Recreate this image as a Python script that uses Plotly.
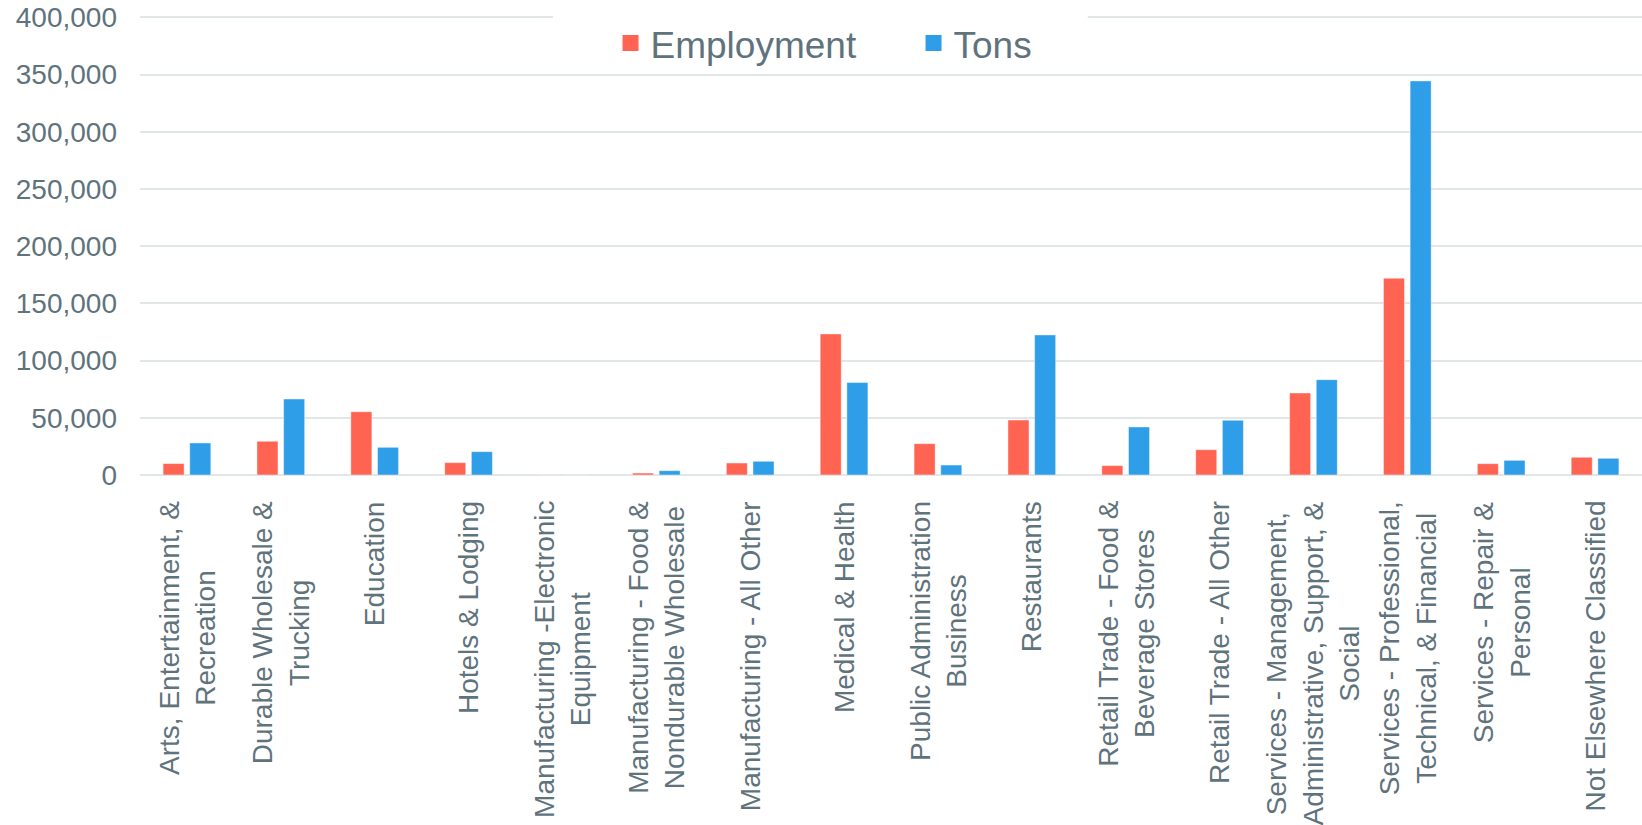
import plotly.graph_objects as go

# Industry categories (line breaks used for the wrapped axis labels)
categories = [
    "Arts, Entertainment, &<br>Recreation",
    "Durable Wholesale &<br>Trucking",
    "Education",
    "Hotels & Lodging",
    "Manufacturing -Electronic<br>Equipment",
    "Manufacturing - Food &<br>Nondurable Wholesale",
    "Manufacturing - All Other",
    "Medical & Health",
    "Public Administration<br>Business",
    "Restaurants",
    "Retail Trade - Food &<br>Beverage Stores",
    "Retail Trade - All Other",
    "Services - Management,<br>Administrative, Support, &<br>Social",
    "Services - Professional,<br>Technical, & Financial",
    "Services - Repair &<br>Personal",
    "Not Elsewhere Classified",
]

employment = [10000, 29500, 55300, 10800, 120, 1700, 10500, 123300, 27400, 48000,
              8200, 22100, 71700, 172000, 9900, 15500]
tons = [28000, 66400, 24200, 20400, 90, 3800, 12000, 80800, 8700, 122400,
        42000, 47800, 83300, 344400, 12800, 14600]

y_ticks = [0, 50000, 100000, 150000, 200000, 250000, 300000, 350000, 400000]

RED = "#FF6452"
BLUE = "#2F9EE8"
TEXT = "#5f737d"
GRID = "#e1e6e9"
FONT = "Liberation Sans, Arial, sans-serif"

fig = go.Figure()
fig.add_trace(go.Bar(name="Employment", x=categories, y=employment,
                     marker=dict(color=RED, line=dict(color="rgba(255,255,255,0.45)", width=1)),
                     showlegend=False))
fig.add_trace(go.Bar(name="Tons", x=categories, y=tons,
                     marker=dict(color=BLUE, line=dict(color="rgba(255,255,255,0.45)", width=1)),
                     showlegend=False))

# Legend entries with larger square swatches
for name, col in (("Employment", RED), ("Tons", BLUE)):
    fig.add_trace(go.Scatter(name=name, x=[None], y=[None], mode="markers",
                             marker=dict(symbol="square", size=16, color=col),
                             showlegend=True, hoverinfo="skip"))

# Wrapped, centred category labels below the axis
for cat in categories:
    fig.add_annotation(x=cat, xref="x", y=0, yref="paper", text=cat,
                       textangle=-90, xanchor="center", yanchor="top",
                       yshift=-24, align="center", showarrow=False,
                       font=dict(family=FONT, size=28, color=TEXT))

# White panel behind the legend interrupting the top gridline
fig.add_shape(type="rect", xref="paper", yref="paper",
              x0=0.275, x1=0.631, y0=0.878, y1=1.03,
              fillcolor="white", line=dict(width=0), layer="above")

fig.update_layout(
    width=1642, height=825,
    margin=dict(l=140, r=0, t=15, b=350),
    paper_bgcolor="white", plot_bgcolor="white",
    barmode="group", bargap=0.432, bargroupgap=0.21,
    font=dict(family=FONT, color=TEXT),
    legend=dict(orientation="h", x=0.515, xanchor="center", y=0.938, yanchor="middle",
                bgcolor="rgba(0,0,0,0)", font=dict(family=FONT, size=37, color=TEXT),
                entrywidth=258, itemclick=False),
    xaxis=dict(showticklabels=False, showgrid=False, showline=False, ticks=""),
    yaxis=dict(range=[0, 402000], tickvals=y_ticks, tickformat=",",
               showgrid=True, gridcolor=GRID, gridwidth=2,
               zeroline=True, zerolinecolor=GRID, zerolinewidth=2,
               showline=False, ticks="", ticklabelstandoff=22,
               tickfont=dict(family=FONT, size=28, color=TEXT)),
)

fig.write_html("out.html")
